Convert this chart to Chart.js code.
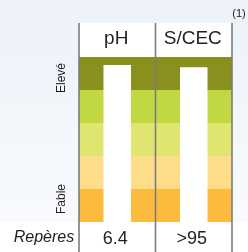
<!DOCTYPE html>
<html>
<head>
<meta charset="utf-8">
<script src="https://cdn.jsdelivr.net/npm/chart.js@4/dist/chart.umd.min.js"></script>
<style>
  html, body { margin: 0; padding: 0; }
  body { width: 248px; height: 252px; background: linear-gradient(to bottom, #edf2f9 0%, #f8fafd 88%); }
  canvas { display: block; }
</style>
</head>
<body>
<canvas id="chart" width="248" height="252"></canvas>
<script>
// Soil indicators vs reference bands

const categories = ['pH', 'S/CEC'];
const values = [4.76, 4.69];
const reperes = ['6.4', '>95'];
const bandLevels = [0, 1, 2, 3, 4, 5];
const levelLabels = ['Fable', 'Elevé'];
const rowTitle = 'Repères';
const note = '(1)';

// lowest band first
const bandColors = ['#fdbb3d', '#fedd8a', '#e0e56f', '#c2d842', '#8a901e'];

const tableDecor = {
  id: 'tableDecor',
  beforeDatasetsDraw(chart) {
    const { ctx, chartArea, scales } = chart;
    const ys = scales.y;
    ctx.save();
    // bottom white row
    ctx.fillStyle = '#ffffff';
    ctx.fillRect(0, chartArea.bottom, chart.width, chart.height - chartArea.bottom);
    // header cell
    ctx.fillRect(chartArea.left, 23, chartArea.right - chartArea.left, chartArea.top - 23);
    // colour bands
    for (let i = 0; i < bandColors.length; i++) {
      const top = ys.getPixelForValue(bandLevels[i + 1]);
      const bot = ys.getPixelForValue(bandLevels[i]);
      ctx.fillStyle = bandColors[i];
      ctx.fillRect(chartArea.left, top, chartArea.right - chartArea.left, bot - top);
    }
    ctx.restore();
  },
  afterDatasetsDraw(chart) {
    const { ctx, chartArea, scales } = chart;
    const xs = scales.x;
    ctx.save();
    // column separators
    const seps = [xs.left];
    for (let i = 0; i < categories.length - 1; i++) {
      seps.push((xs.getPixelForValue(i) + xs.getPixelForValue(i + 1)) / 2);
    }
    seps.push(xs.right);
    ctx.strokeStyle = '#7c7c7c';
    ctx.lineWidth = 1.6;
    seps.forEach(x => {
      ctx.beginPath();
      ctx.moveTo(x, 23);
      ctx.lineTo(x, chart.height);
      ctx.stroke();
    });

    ctx.fillStyle = '#222';
    ctx.textAlign = 'center';
    ctx.textBaseline = 'alphabetic';
    // header labels
    ctx.font = '19px "Liberation Sans", Arial, sans-serif';
    categories.forEach((c, i) => ctx.fillText(c, xs.getPixelForValue(i) - 1, 44));
    // reference values
    ctx.font = '18px "Liberation Sans", Arial, sans-serif';
    reperes.forEach((r, i) => ctx.fillText(r, xs.getPixelForValue(i) - 2, 244));
    // row title
    ctx.font = 'italic 16px "Liberation Sans", Arial, sans-serif';
    ctx.fillText(rowTitle, 44, 242);
    // note
    ctx.font = '11px "Liberation Sans", Arial, sans-serif';
    ctx.fillText(note, 239, 17);
    // rotated level labels
    ctx.font = '12px "Liberation Sans", Arial, sans-serif';
    ctx.textBaseline = 'middle';
    const drawRot = (txt, x, y) => {
      ctx.save();
      ctx.translate(x, y);
      ctx.rotate(-Math.PI / 2);
      ctx.fillText(txt, 0, 0);
      ctx.restore();
    };
    drawRot(levelLabels[1], 62, chartArea.top + 21);
    drawRot(levelLabels[0], 62, chartArea.bottom - 23);
    ctx.restore();
  }
};

new Chart(document.getElementById('chart'), {
  type: 'bar',
  data: {
    labels: categories,
    datasets: [{
      data: values,
      backgroundColor: '#ffffff',
      borderWidth: 0,
      barPercentage: 0.36,
      categoryPercentage: 1
    }]
  },
  options: {
    responsive: false,
    devicePixelRatio: 1,
    animation: false,
    layout: { padding: { left: 79, right: 16, top: 57, bottom: 30 } },
    plugins: { legend: { display: false }, tooltip: { enabled: false } },
    scales: {
      x: { display: false },
      y: { display: false, min: bandLevels[0], max: bandLevels[bandLevels.length - 1] }
    }
  },
  plugins: [tableDecor]
});
</script>
</body>
</html>
